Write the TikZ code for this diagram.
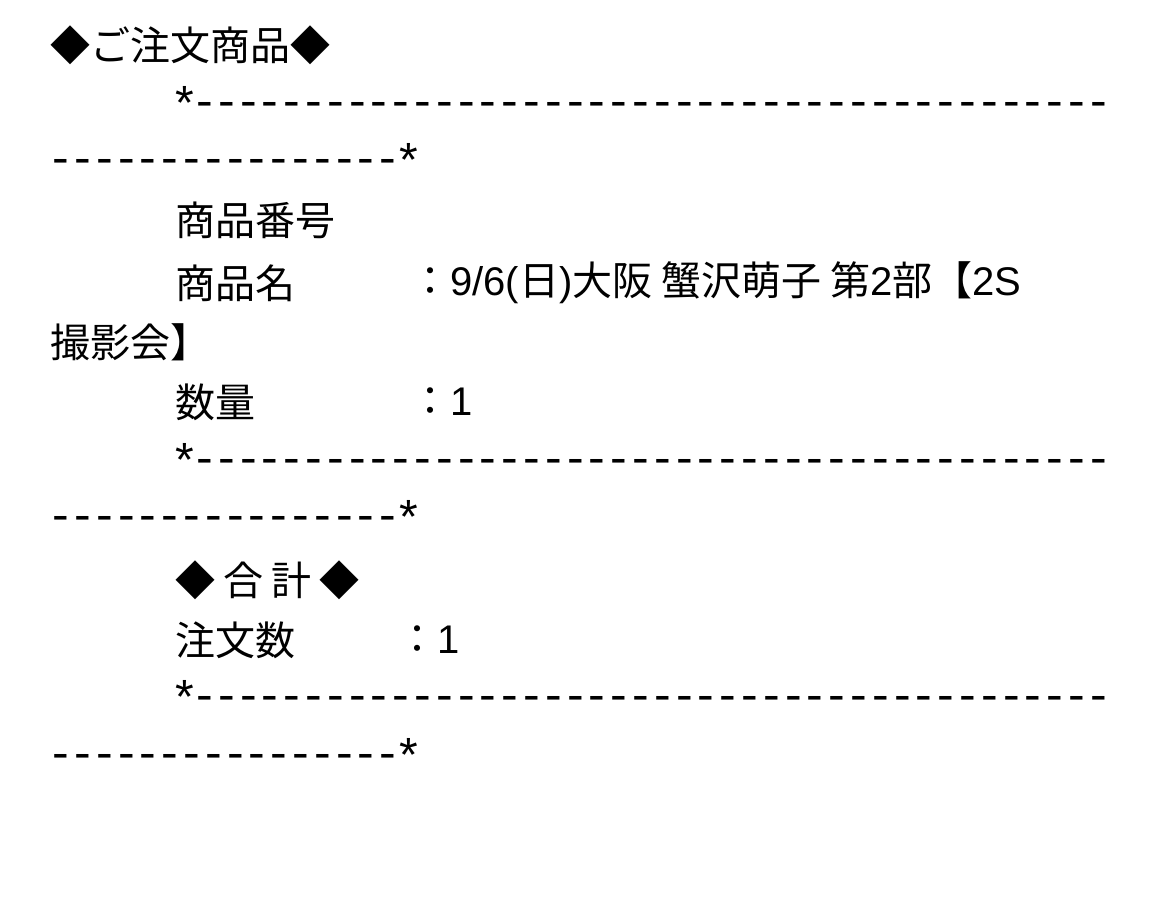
\documentclass[tikz,border=0pt]{standalone}
\usepackage{fontspec}
\setmainfont{Noto Sans CJK JP}
\newfontfamily\lat{Liberation Sans}
\newcommand\dd{\makebox[21.8pt]{\lat\scalebox{1.25}[1.15]{-}}}
\newcommand\ddx{\dd\dd\dd\dd\dd\dd\dd\dd\dd\dd}
\newcommand\st{{\lat\raisebox{-3pt}{\scalebox{1.2}{*}}}}
\begin{document}
\begin{tikzpicture}[x=1pt,y=-1pt,t/.style={anchor=west,inner sep=0pt,font=\fontsize{40}{48}\selectfont}]
\useasboundingbox[fill=white] (0,0) rectangle (1170,909);
\node[t] (a) at (50,45) {◆ご注文商品◆};
\node[t] (b) at (175,103) {\st\ddx\ddx\ddx\ddx\dd\dd};
\node[t] (c) at (50,160) {\ddx\dd\dd\dd\dd\dd\dd\st};
\node[t] (d) at (175,220) {商品番号};
\node[t] (e) at (175,283) {商品名};
\node[t] (e2) at (410,283) {：{\lat 9/6(}日{\lat )}大阪 蟹沢萌子 第{\lat 2}部【{\lat 2S}};
\node[t] (f) at (50,342) {撮影会】};
\node[t] (g) at (175,402) {数量};
\node[t] (g2) at (410,402) {：{\lat 1}};
\node[t] (h) at (175,460) {\st\ddx\ddx\ddx\ddx\dd\dd};
\node[t] (i) at (50,517) {\ddx\dd\dd\dd\dd\dd\dd\st};
\node[t] (j) at (175,580) {◆\hspace{8pt}合\hspace{8pt}計\hspace{8pt}◆};
\node[t] (k) at (175,640) {注文数};
\node[t] (k2) at (397,640) {：{\lat 1}};
\node[t] (l) at (175,697) {\st\ddx\ddx\ddx\ddx\dd\dd};
\node[t] (m) at (50,755) {\ddx\dd\dd\dd\dd\dd\dd\st};
\end{tikzpicture}
\end{document}
